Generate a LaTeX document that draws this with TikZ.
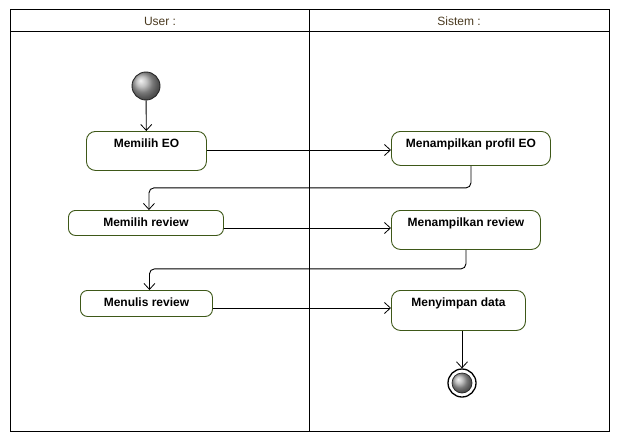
\documentclass[tikz,border=0pt]{standalone}
\usepackage{fontspec}
\setmainfont{Liberation Sans}
\usetikzlibrary{arrows.meta}
\definecolor{boxgreen}{RGB}{62,88,24}
\definecolor{headtext}{RGB}{74,58,32}
\begin{document}
\begin{tikzpicture}[x=1pt,y=-1pt,
  act/.style={draw=boxgreen, line width=0.9pt, rounded corners=9pt, inner sep=0pt,
    font=\fontsize{12}{14}\selectfont\bfseries, text height=16.5pt, anchor=north west},
  conn/.style={draw=black, line width=0.9pt, -{Straight Barb[length=6pt,width=11pt,line width=0.8pt]}},
  flow/.style={conn, rounded corners=5pt},
  lane/.style={draw=black, line width=1pt},
  head/.style={font=\fontsize{12}{14}\selectfont, text=headtext, inner sep=0pt}]
\useasboundingbox (0,0) rectangle (620,441);
% swimlanes
\draw[lane] (10,10) rectangle (609,431);
\draw[lane] (10,32) -- (609,32);
\draw[lane] (309,10) -- (309,431);
\node[head] (huser) at (160,21) {User :};
\node[head] (hsys) at (459,21) {Sistem :};
% start / end
\node[circle, minimum size=28pt, inner sep=0pt, draw=black!85, line width=0.9pt, shading=ball, ball color=gray!65] (start) at (146,86) {};
\node[circle, minimum size=28pt, inner sep=0pt, draw=black, line width=1.3pt, fill=white] (end) at (462,383) {};
\shadedraw[ball color=gray!65, draw=black!85, line width=0.7pt] (end.center) circle (10);
% actions
\node[act, minimum width=120pt, text depth=22.5pt] (me) at (86,131) {Memilih EO};
\node[act, minimum width=155pt, text depth=8.5pt, rounded corners=7pt] (mr) at (68,210) {Memilih review};
\node[act, minimum width=132pt, text depth=9.5pt, rounded corners=7pt] (mw) at (80,290) {Menulis review};
\node[act, minimum width=159pt, text depth=17.5pt] (sp) at (391,131) {Menampilkan profil EO};
\node[act, minimum width=149pt, text depth=22.5pt] (sr) at (391,210) {Menampilkan review};
\node[act, minimum width=134pt, text depth=23.5pt] (sd) at (391,290) {Menyimpan data};
% connectors
\draw[conn] (start) -- (me);
\draw[conn] ([yshift=-19pt]me.north east) -- ([yshift=-19pt]me.north east -| sp.west);
\draw[flow] (sp.south) -- ++(0,22) -| ([xshift=3pt]mr.north);
\draw[conn] ([yshift=-18pt]mr.north east) -- ([yshift=-18pt]mr.north east -| sr.west);
\draw[flow] (sr.south) -- ++(0,19) -| ([xshift=3pt]mw.north);
\draw[conn] ([yshift=-18pt]mw.north east) -- ([yshift=-18pt]mw.north east -| sd.west);
\draw[conn] (sd.south -| end) -- (end);
\end{tikzpicture}
\end{document}
